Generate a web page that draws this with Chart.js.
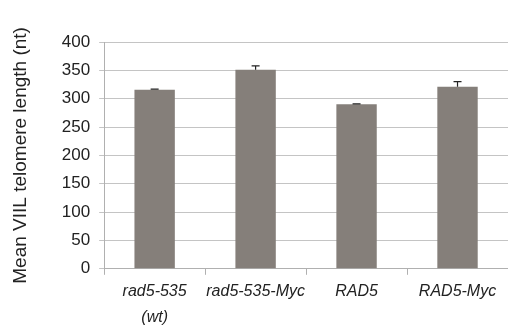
<!DOCTYPE html>
<html>
<head>
<meta charset="utf-8">
<script src="https://cdn.jsdelivr.net/npm/chart.js@4"></script>
<style>
  html, body { margin: 0; padding: 0; background: #fff; }
  #wrap { width: 508px; height: 332px; }
</style>
</head>
<body>
<div id="wrap"><canvas id="chart"></canvas></div>
<script>
// data
const strains = [['rad5-535', '(wt)'], 'rad5-535-Myc', 'RAD5', 'RAD5-Myc'];
const meanLength = [316, 351, 290, 321];
const errPlus = [1, 7, 1, 9];

// simple upward error bars
const errorBars = {
  id: 'errorBars',
  afterDatasetsDraw(chart) {
    const ctx = chart.ctx;
    const meta = chart.getDatasetMeta(0);
    const y = chart.scales.y;
    ctx.save();
    ctx.strokeStyle = '#222';
    ctx.lineWidth = 1.2;
    meta.data.forEach((bar, i) => {
      const top = y.getPixelForValue(meanLength[i] + errPlus[i]);
      const base = y.getPixelForValue(meanLength[i]);
      ctx.beginPath();
      ctx.moveTo(bar.x, base);
      ctx.lineTo(bar.x, top);
      ctx.moveTo(bar.x - 4, top);
      ctx.lineTo(bar.x + 4, top);
      ctx.stroke();
    });
    ctx.restore();
  }
};

new Chart(document.getElementById('chart'), {
  type: 'bar',
  data: {
    labels: strains,
    datasets: [{
      data: meanLength,
      backgroundColor: '#857f7a',
      borderWidth: 0,
      barPercentage: 0.4,
      categoryPercentage: 1.0
    }]
  },
  options: {
    responsive: true,
    maintainAspectRatio: false,
    animation: false,
    layout: { padding: { top: 42, right: 0, left: 9, bottom: -2 } },
    plugins: { legend: { display: false }, tooltip: { enabled: false } },
    scales: {
      x: {
        grid: { display: true, drawOnChartArea: false, offset: true, color: '#b0b0b0', tickLength: 6 },
        border: { color: '#b0b0b0' },
        ticks: {
          color: '#222',
          padding: 4,
          maxRotation: 0,
          autoSkip: false,
          font: { family: 'Liberation Sans, Arial', size: 16, style: 'italic', lineHeight: 1.6 }
        }
      },
      y: {
        min: 0,
        max: 400,
        ticks: {
          stepSize: 50,
          color: '#222',
          padding: 9,
          font: { family: 'Liberation Sans, Arial', size: 17 }
        },
        grid: { color: '#c4c4c4', tickLength: 5 },
        border: { color: '#b0b0b0' },
        title: {
          display: true,
          text: 'Mean VIIL telomere length (nt)',
          color: '#222',
          padding: { top: 0, bottom: 21 },
          font: { family: 'Liberation Sans, Arial', size: 19 }
        }
      }
    }
  },
  plugins: [errorBars]
});
</script>
</body>
</html>
